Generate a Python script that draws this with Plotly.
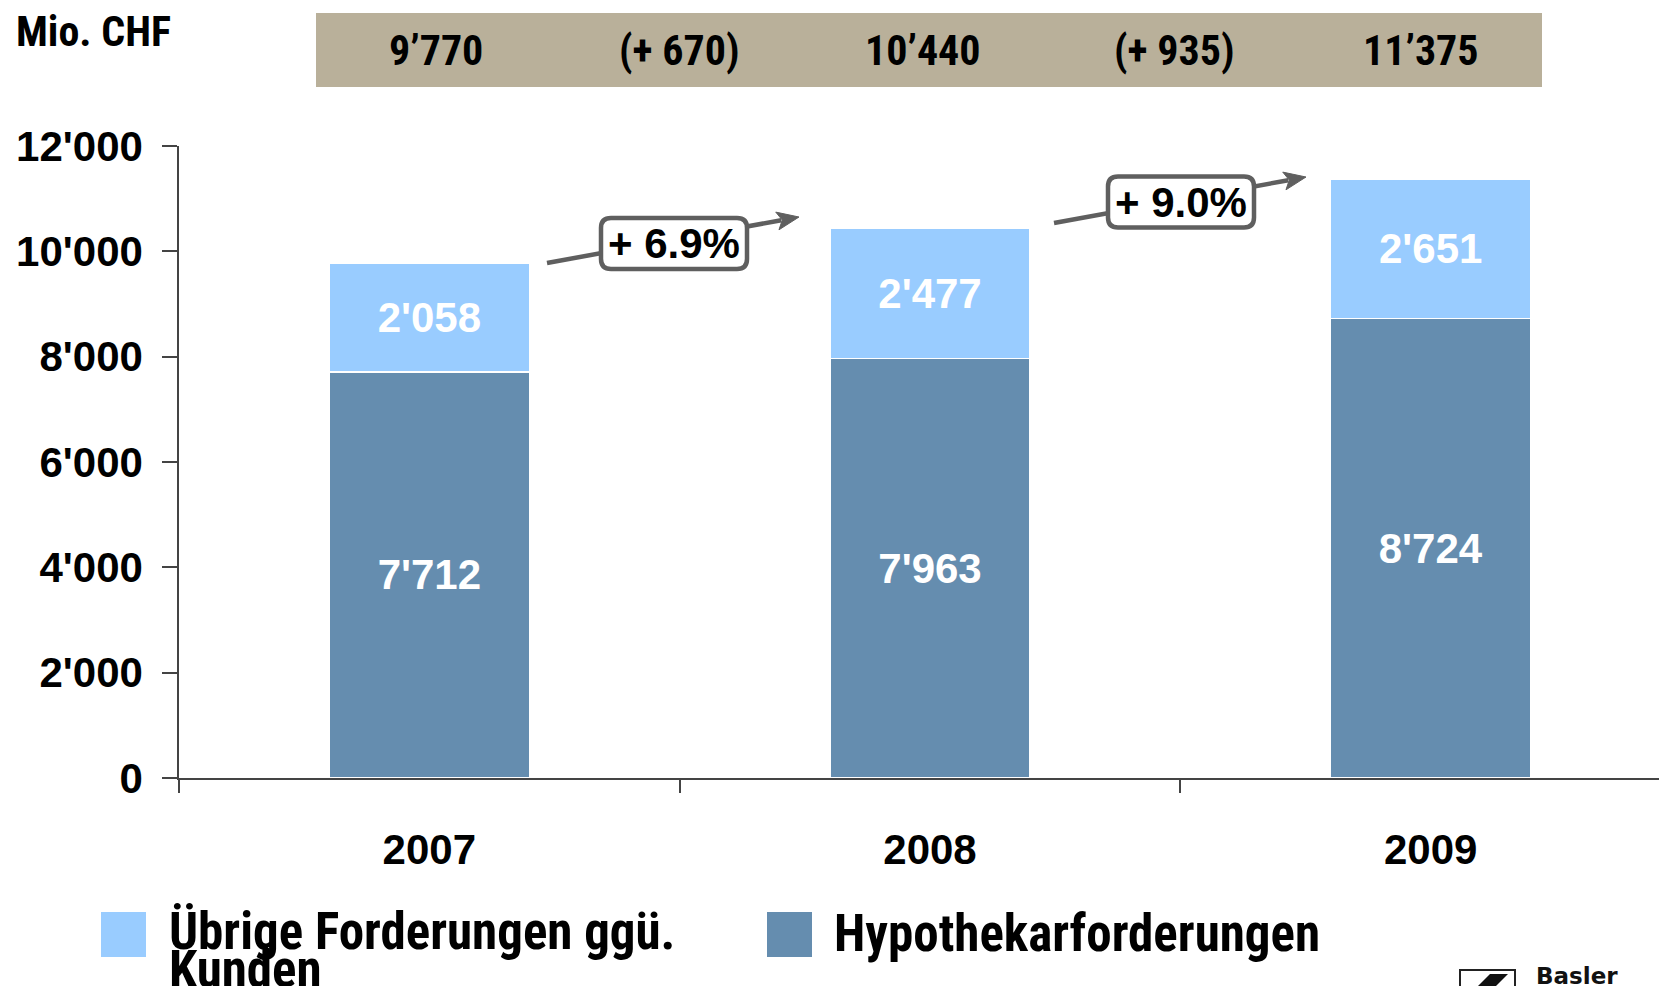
import plotly.graph_objects as go

# ---------------- data ----------------
years = ["2007", "2008", "2009"]
hypothekar = [7712, 7963, 8724]
uebrige = [2058, 2477, 2651]
name_uebrige = "Übrige Forderungen ggü. Kunden"
name_hypo = "Hypothekarforderungen"
banner_totals = ["9’770", "10’440", "11’375"]
banner_diffs = ["(+ 670)", "(+ 935)"]
growth_labels = ["+ 6.9%", "+ 9.0%"]
y_tickvals = [0, 2000, 4000, 6000, 8000, 10000, 12000]
y_ticktext = ["0", "2'000", "4'000", "6'000", "8'000", "10'000", "12'000"]

# ---------------- styles ----------------
C_LIGHT = "#99CCFF"
C_DARK = "#658DAF"
C_BANNER = "#B9B09A"
C_ARROW = "#5F5F5F"
C_AXIS = "#444444"
FONT = "Liberation Sans"
NARROW = "Roboto Condensed, Liberation Sans Narrow, Liberation Sans"

W, H = 1659, 986
ML, MR, MT, MB = 179, 0, 146, 208
X_MIN, X_MAX = -0.5, 2.456
Y_MAX = 12000
PW = W - ML - MR
PH = H - MT - MB
TOTAL_XSHIFT = [7, -7, -10]
DIFF_XSHIFT = [0, -6]


def fmt(v):
    return f"{v:,}".replace(",", "'")


def px_to_data(px, py):
    x = X_MIN + (px - ML) / PW * (X_MAX - X_MIN)
    y = (MT + PH - py) / PH * Y_MAX
    return x, y


def px_to_paper(px, py):
    return (px - ML) / PW, (MT + PH - py) / PH


fig = go.Figure()
fig.add_trace(go.Bar(
    x=years, y=hypothekar, name=name_hypo,
    marker=dict(color=C_DARK, line=dict(color="white", width=1.5)),
    text=[fmt(v) for v in hypothekar], textposition="inside",
    insidetextanchor="middle", textangle=0, constraintext="none",
    textfont=dict(family=FONT, size=42, color="white", weight="bold"),
    width=0.4, showlegend=False, hoverinfo="skip",
))
fig.add_trace(go.Bar(
    x=years, y=uebrige, name=name_uebrige,
    marker=dict(color=C_LIGHT, line=dict(color="white", width=1.5)),
    text=[fmt(v) for v in uebrige], textposition="inside",
    insidetextanchor="middle", textangle=0, constraintext="none",
    textfont=dict(family=FONT, size=42, color="white", weight="bold"),
    width=0.4, showlegend=False, hoverinfo="skip",
))

shapes = []
annotations = []

# banner on top
bx0, by0 = px_to_paper(316, 13)
bx1, by1 = px_to_paper(1542, 87)
shapes.append(dict(type="rect", xref="paper", yref="paper", x0=bx0, x1=bx1,
                   y0=by1, y1=by0, fillcolor=C_BANNER, line=dict(width=0),
                   layer="below"))
_, ty = px_to_paper(0, 50)
for i, t in enumerate(banner_totals):
    annotations.append(dict(x=i, xref="x", y=ty, yref="paper", text=t,
                            xshift=TOTAL_XSHIFT[i],
                            showarrow=False, xanchor="center", yanchor="middle",
                            font=dict(family=NARROW, size=42, color="black", weight="bold")))
for i, t in enumerate(banner_diffs):
    annotations.append(dict(x=i + 0.5, xref="x", y=ty, yref="paper", text=t,
                            xshift=DIFF_XSHIFT[i],
                            showarrow=False, xanchor="center", yanchor="middle",
                            font=dict(family=NARROW, size=42, color="black", weight="bold")))

# unit label
ux, uy = px_to_paper(14, 32)
annotations.append(dict(x=ux, y=uy, xref="paper", yref="paper", text="Mio. CHF",
                        showarrow=False, xanchor="left", yanchor="middle",
                        font=dict(family=NARROW, size=42, color="black", weight="bold")))


def P(a, b):
    dx, dy = px_to_data(a, b)
    return f"{dx},{dy}"


# growth arrows with boxes (line first, head, then box on top)
arrows = [((547, 263), (799, 217), (674, 243.5)),
          ((1054, 223), (1306, 177), (1181, 202))]
for (tail, head, center), lab in zip(arrows, growth_labels):
    (tx, tyy), (hx, hy) = tail, head
    dxp, dyp = hx - tx, hy - tyy
    L = (dxp ** 2 + dyp ** 2) ** 0.5
    ux_, uy_ = dxp / L, dyp / L
    nx_, ny_ = -uy_, ux_
    hl, hw = 22, 9
    bxp, byp = hx - ux_ * hl, hy - uy_ * hl
    shapes.append(dict(type="path", xref="x", yref="y",
                       path=f"M {P(tx, tyy)} L {P(bxp + ux_ * 4, byp + uy_ * 4)}",
                       line=dict(color=C_ARROW, width=4.5)))
    shapes.append(dict(type="path", xref="x", yref="y",
                       path=(f"M {P(hx, hy)} L {P(bxp + nx_ * hw, byp + ny_ * hw)} "
                             f"L {P(bxp + ux_ * 5, byp + uy_ * 5)} "
                             f"L {P(bxp - nx_ * hw, byp - ny_ * hw)} Z"),
                       fillcolor=C_ARROW, line=dict(color=C_ARROW, width=1)))
    # rounded box
    cx, cy = center
    w2, h2, r = 73, 25.5, 10
    x0, x1, y0, y1 = cx - w2, cx + w2, cy - h2, cy + h2
    path = (f"M {P(x0 + r, y0)} L {P(x1 - r, y0)} Q {P(x1, y0)} {P(x1, y0 + r)} "
            f"L {P(x1, y1 - r)} Q {P(x1, y1)} {P(x1 - r, y1)} "
            f"L {P(x0 + r, y1)} Q {P(x0, y1)} {P(x0, y1 - r)} "
            f"L {P(x0, y0 + r)} Q {P(x0, y0)} {P(x0 + r, y0)} Z")
    shapes.append(dict(type="path", xref="x", yref="y", path=path,
                       fillcolor="white", line=dict(color=C_ARROW, width=4.5)))
    dcx, dcy = px_to_data(cx, cy)
    annotations.append(dict(x=dcx, y=dcy, xref="x", yref="y", text=lab,
                            showarrow=False, xanchor="center", yanchor="middle",
                            font=dict(family=FONT, size=42, color="black", weight="bold")))

# legend (manual); first series name shown on two lines
first_lines = name_uebrige.rsplit(" ", 1)
leg = [
    (101, 167, [(first_lines[0], 931), (first_lines[1], 969)], C_LIGHT),
    (767, 832, [(name_hypo, 933)], C_DARK),
]
for sx, tx, lines, col in leg:
    x0p, y0p = px_to_paper(sx, 912)
    x1p, y1p = px_to_paper(sx + 45, 957)
    shapes.append(dict(type="rect", xref="paper", yref="paper", x0=x0p, x1=x1p,
                       y0=y1p, y1=y0p, fillcolor=col, line=dict(width=0)))
    for text, yy in lines:
        ax_, ay_ = px_to_paper(tx, yy)
        annotations.append(dict(x=ax_, y=ay_, xref="paper", yref="paper", text=text,
                                showarrow=False, xanchor="left", yanchor="middle",
                                font=dict(family=NARROW, size=51, color="black", weight="bold")))

# logo fragment bottom right
lx0, ly0 = px_to_paper(1460, 970)
lx1, ly1 = px_to_paper(1515, 995)
shapes.append(dict(type="rect", xref="paper", yref="paper", x0=lx0, x1=lx1,
                   y0=ly1, y1=ly0, line=dict(color="#222222", width=2),
                   fillcolor="white"))
pa = px_to_paper(1478, 986)
pb = px_to_paper(1490, 974)
pc = px_to_paper(1508, 974)
pd = px_to_paper(1496, 986)
shapes.append(dict(type="path", xref="paper", yref="paper",
                   path=f"M {pa[0]},{pa[1]} L {pb[0]},{pb[1]} L {pc[0]},{pc[1]} L {pd[0]},{pd[1]} Z",
                   fillcolor="#111111", line=dict(width=0)))
bxl, byl = px_to_paper(1534, 961)
annotations.append(dict(x=bxl, y=byl, xref="paper", yref="paper", text="Basler",
                        showarrow=False, xanchor="left", yanchor="top",
                        font=dict(family="DejaVu Sans", size=23, color="#111111", weight="bold")))

fig.update_layout(
    barmode="stack",
    width=W, height=H, autosize=False,
    margin=dict(l=ML, r=MR, t=MT, b=MB, pad=0),
    paper_bgcolor="white", plot_bgcolor="white",
    shapes=shapes, annotations=annotations,
    showlegend=False,
    xaxis=dict(type="category", range=[X_MIN, X_MAX], showline=True,
               linecolor=C_AXIS, linewidth=1.5, ticks="outside", tickson="boundaries",
               ticklen=13, tickwidth=1.5, tickcolor=C_AXIS, showgrid=False,
               ticklabelstandoff=34, fixedrange=True,
               tickfont=dict(family=FONT, size=42, color="black", weight="bold")),
    yaxis=dict(range=[0, Y_MAX], showline=True, linecolor=C_AXIS, linewidth=1.5,
               ticks="outside", ticklen=15, tickwidth=1.5, tickcolor=C_AXIS,
               tickvals=y_tickvals, ticktext=y_ticktext, showgrid=False,
               zeroline=False, ticklabelstandoff=11, fixedrange=True,
               tickfont=dict(family=FONT, size=42, color="black", weight="bold")),
)

fig.write_html(
    "out.html",
    config={"displayModeBar": False},
    post_script="document.body.style.margin='0';document.body.style.overflow='hidden';",
)
